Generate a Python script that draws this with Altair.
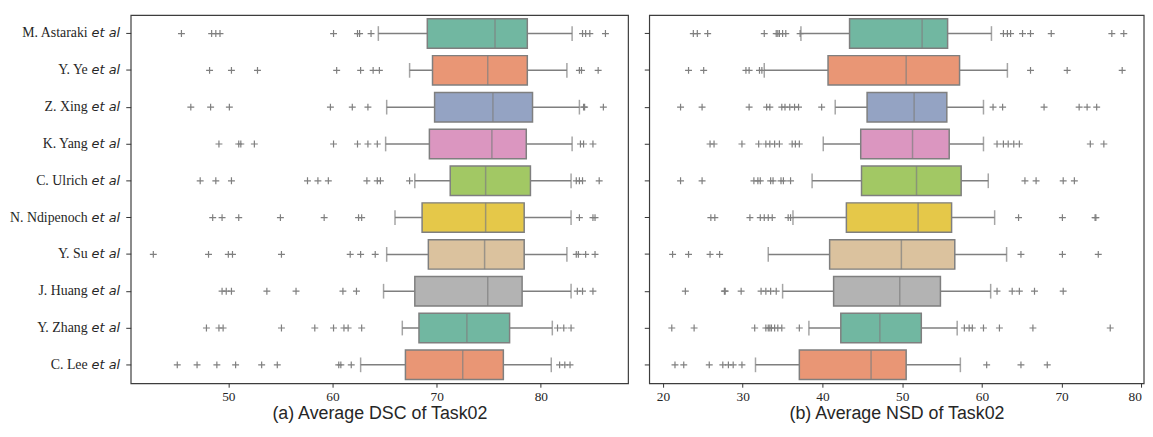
import altair as alt
import pandas as pd

teams = ["M. Astaraki", "Y. Ye", "Z. Xing", "K. Yang", "C. Ulrich",
         "N. Ndipenoch", "Y. Su", "J. Huang", "Y. Zhang", "C. Lee"]
palette = ["#71b7a1", "#e99675", "#94a3c3", "#db96c0", "#a2c864",
           "#e5c849", "#dbc29e", "#b3b3b3", "#71b7a1", "#e99675"]

# (a) Average DSC
dsc_q1 = [69.1, 69.6, 69.8, 69.3, 71.3, 68.6, 69.2, 67.9, 68.3, 67.0]
dsc_med = [75.6, 74.9, 75.4, 75.3, 74.7, 74.7, 74.6, 74.9, 72.9, 72.5]
dsc_q3 = [78.7, 78.7, 79.2, 78.6, 79.0, 78.4, 78.4, 78.2, 77.0, 76.4]
dsc_wlo = [64.4, 67.4, 65.2, 65.1, 67.9, 66.0, 65.2, 64.9, 66.7, 62.7]
dsc_whi = [83.0, 82.5, 83.7, 83.0, 82.9, 82.9, 82.5, 82.9, 81.1, 81.0]
dsc_out = [
    [45.5, 48.4, 48.8, 49.2, 60.1, 62.4, 62.6, 63.7, 84.0, 84.3, 84.7, 86.2],
    [48.2, 50.3, 52.8, 60.4, 62.7, 63.9, 64.5, 83.7, 83.9, 85.5],
    [46.4, 48.3, 50.1, 59.8, 61.9, 63.4, 84.1, 84.2, 86.0],
    [49.1, 51.0, 51.2, 52.5, 60.1, 62.4, 63.4, 64.3, 83.8, 84.1, 85.0],
    [47.3, 48.8, 50.3, 57.6, 58.6, 59.6, 63.3, 64.3, 64.6, 67.4, 83.4, 83.7, 84.0, 85.6],
    [48.5, 49.4, 51.0, 55.0, 59.2, 62.5, 62.8, 83.7, 85.0, 85.2],
    [42.8, 48.1, 50.0, 50.4, 55.1, 61.7, 62.7, 64.1, 83.4, 83.6, 84.3, 85.2],
    [49.4, 49.8, 50.3, 53.7, 56.5, 61.0, 62.3, 83.5, 84.0, 85.0],
    [47.9, 49.1, 49.5, 55.1, 58.3, 60.1, 61.1, 61.5, 62.8, 81.6, 82.2, 82.9],
    [45.1, 47.0, 48.9, 50.7, 53.2, 54.7, 60.6, 60.8, 61.8, 81.8, 82.3, 82.8],
]
dsc_ticks = [50, 60, 70, 80]

# (b) Average NSD
nsd_q1 = [43.4, 40.7, 45.6, 44.8, 44.9, 43.0, 40.9, 41.4, 42.3, 37.1]
nsd_med = [52.5, 50.5, 51.5, 51.3, 51.8, 52.0, 49.9, 49.7, 47.2, 46.1]
nsd_q3 = [55.7, 57.2, 55.6, 55.9, 57.4, 56.2, 56.6, 54.8, 52.4, 50.5]
nsd_wlo = [37.3, 32.7, 41.6, 40.1, 38.7, 36.3, 33.2, 35.0, 38.3, 31.6]
nsd_whi = [61.2, 63.2, 60.2, 60.2, 60.8, 61.6, 63.1, 61.1, 56.9, 57.3]
nsd_out = [
    [23.8, 24.3, 25.6, 32.7, 34.2, 34.4, 34.6, 35.0, 35.4, 37.2, 62.7, 63.2, 63.6, 65.1, 66.1, 68.7, 76.3, 77.8],
    [23.2, 25.1, 30.4, 30.8, 32.1, 32.4, 66.1, 70.7, 77.6],
    [22.2, 24.9, 30.8, 33.0, 33.4, 34.9, 35.3, 35.9, 36.5, 37.0, 39.9, 61.4, 62.6, 67.8, 72.2, 73.2, 74.4],
    [25.9, 26.4, 29.9, 32.0, 32.9, 33.4, 34.0, 34.6, 36.2, 36.6, 37.1, 61.9, 62.7, 63.3, 64.0, 64.7, 73.6, 75.3],
    [22.2, 24.9, 31.4, 31.9, 32.2, 33.5, 33.8, 34.8, 35.1, 36.0, 65.4, 66.8, 70.2, 71.6],
    [26.0, 26.5, 30.9, 32.2, 32.7, 33.2, 33.7, 35.7, 36.0, 64.6, 70.1, 74.2, 74.3],
    [21.2, 23.2, 25.9, 27.1, 64.9, 70.1, 74.6],
    [22.8, 27.7, 27.8, 29.8, 32.3, 32.9, 33.5, 34.2, 61.9, 63.8, 64.7, 66.6, 70.2],
    [21.1, 23.9, 31.5, 32.9, 33.2, 33.4, 33.6, 34.0, 34.4, 34.9, 37.1, 57.8, 58.4, 58.8, 60.2, 62.2, 66.4, 76.1],
    [21.5, 22.6, 25.8, 27.5, 28.2, 28.8, 29.9, 60.6, 64.9, 68.2],
]
nsd_ticks = [20, 30, 40, 50, 60, 70, 80]

LINE = "#7f7f7f"
TEXT = "#262626"
PLUS = "M-1,0H1M0,-1V1"
PLOT_H = 372


def panel(q1, med, q3, wlo, whi, outs, domain, ticks, title, width, show_labels):
    stats = pd.DataFrame({"team": teams, "q1": q1, "med": med, "q3": q3,
                          "wlo": wlo, "whi": whi})
    out = pd.DataFrame([(t, v) for t, vals in zip(teams, outs) for v in vals],
                       columns=["team", "value"])

    if show_labels:
        yaxis = alt.Axis(title=None, labelFont="Liberation Serif", labelFontSize=14,
                         labelColor=TEXT, labelPadding=39, tickSize=5,
                         tickColor="#333333", domain=False)
    else:
        yaxis = alt.Axis(title=None, labels=False, tickSize=5,
                         tickColor="#333333", domain=False)
    yscale = alt.Scale(type="band", domain=teams, paddingInner=0, paddingOuter=0)

    def Y():
        return alt.Y("team:N", sort=teams, scale=yscale, axis=yaxis)

    xscale = alt.Scale(domain=domain, nice=False, zero=False)
    last = ticks[-1]
    xaxis = alt.Axis(title=title, values=ticks, format="d",
                     labelAlign={"condition": {"test": f"datum.value == {last} && {0 if show_labels else 1}",
                                               "value": "right"},
                                 "value": "center"})

    def X(field):
        return alt.X(f"{field}:Q", scale=xscale, axis=xaxis)

    band = PLOT_H / len(teams)
    base = alt.Chart(stats)
    whisk = base.mark_rule(color=LINE, strokeWidth=1.5).encode(
        x=X("wlo"), x2="whi:Q", y=Y())
    cap_lo = base.mark_tick(color=LINE, size=band * 0.4, thickness=1.5).encode(
        x=X("wlo"), y=Y())
    cap_hi = base.mark_tick(color=LINE, size=band * 0.4, thickness=1.5).encode(
        x=X("whi"), y=Y())
    box = base.mark_bar(height={"band": 0.8}, stroke=LINE, strokeWidth=1.5).encode(
        x=X("q1"), x2="q3:Q", y=Y(),
        color=alt.Color("team:N", scale=alt.Scale(domain=teams, range=palette), legend=None))
    median = base.mark_tick(color=LINE, size=band * 0.8, thickness=1.5).encode(
        x=X("med"), y=Y())
    pts = alt.Chart(out).mark_point(shape=PLUS, size=49, filled=False,
                                    color=LINE, strokeWidth=1.2, opacity=1).encode(
        x=X("value"), y=Y())
    layers = [whisk, cap_lo, cap_hi, box, median, pts]
    if show_labels:
        etal = base.mark_text(align="right", baseline="middle", font="DejaVu Sans",
                              fontStyle="italic", fontSize=13, color=TEXT).encode(
            x=alt.value(-10.7), y=Y(), text=alt.value("et al"))
        layers.append(etal)
    return alt.layer(*layers).properties(width=width, height=PLOT_H)


left = panel(dsc_q1, dsc_med, dsc_q3, dsc_wlo, dsc_whi, dsc_out,
             [40.63, 88.37], dsc_ticks, "(a) Average DSC of Task02", 502.6, True)
right = panel(nsd_q1, nsd_med, nsd_q3, nsd_wlo, nsd_whi, nsd_out,
              [18.27, 80.3], nsd_ticks, "(b) Average NSD of Task02", 499.7, False)

chart = alt.hconcat(left, right, spacing=13).properties(
    padding={"left": 0, "top": 4, "right": 0, "bottom": 0}
).configure_view(
    stroke="#3d3d3d", strokeWidth=1.2
).configure_axis(
    grid=False
).configure_axisX(
    labelFont="Liberation Serif", labelFontSize=13.5, labelColor=TEXT,
    tickSize=4, tickColor="#333333", labelPadding=2, domain=False,
    titleFont="Liberation Sans", titleFontSize=18, titleFontWeight="normal",
    titleColor=TEXT, titlePadding=2
)

chart.save("out.html", embed_options={"renderer": "svg", "actions": False})
